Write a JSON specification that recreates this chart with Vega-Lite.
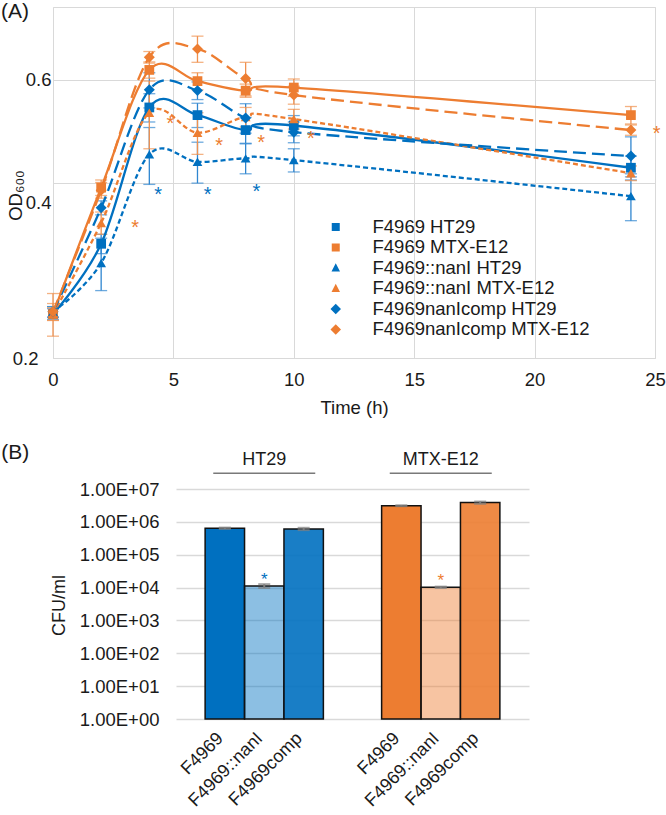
{
  "$schema": "https://vega.github.io/schema/vega-lite/v6.json",
  "background": "white",
  "padding": {"left": 0, "top": 0, "right": 0, "bottom": 0},
  "spacing": 23,
  "config": {
    "font": "Liberation Sans",
    "axis": {"labelFont": "Liberation Sans", "titleFont": "Liberation Sans", "labelColor": "#1a1a1a", "titleColor": "#1a1a1a", "titleFontWeight": "normal", "domain": false, "ticks": false, "gridColor": "#d9d9d9"},
    "legend": {"labelFont": "Liberation Sans", "orient": "none", "legendX": 273.5, "title": null, "symbolSize": 100, "symbolStrokeWidth": 2.5, "labelFontSize": 18.5, "labelOffset": 27.5, "rowPadding": 1, "labelColor": "#1a1a1a", "labelLimit": 0},
    "text": {"font": "Liberation Sans"},
    "title": {"font": "Liberation Sans"}
  },
  "datasets": {
    "od": [
      {"series": "F4969 HT29", "t": 0, "od": 0.238, "sd": 0.005},
      {"series": "F4969 HT29", "t": 2, "od": 0.314, "sd": 0.012},
      {"series": "F4969 HT29", "t": 4, "od": 0.538, "sd": 0.03},
      {"series": "F4969 HT29", "t": 6, "od": 0.522, "sd": 0.025},
      {"series": "F4969 HT29", "t": 8, "od": 0.492, "sd": 0.025},
      {"series": "F4969 HT29", "t": 10, "od": 0.501, "sd": 0.02},
      {"series": "F4969 HT29", "t": 24, "od": 0.424, "sd": 0.02},
      {"series": "F4969 MTX-E12", "t": 0, "od": 0.238, "sd": 0.02},
      {"series": "F4969 MTX-E12", "t": 2, "od": 0.392, "sd": 0.012},
      {"series": "F4969 MTX-E12", "t": 4, "od": 0.624, "sd": 0.02},
      {"series": "F4969 MTX-E12", "t": 6, "od": 0.597, "sd": 0.02},
      {"series": "F4969 MTX-E12", "t": 8, "od": 0.575, "sd": 0.015},
      {"series": "F4969 MTX-E12", "t": 10, "od": 0.582, "sd": 0.02},
      {"series": "F4969 MTX-E12", "t": 24, "od": 0.522, "sd": 0.018},
      {"series": "F4969::nanI HT29", "t": 0, "od": 0.240, "sd": 0.005},
      {"series": "F4969::nanI HT29", "t": 2, "od": 0.291, "sd": 0.03},
      {"series": "F4969::nanI HT29", "t": 4, "od": 0.447, "sd": 0.05},
      {"series": "F4969::nanI HT29", "t": 6, "od": 0.434, "sd": 0.035},
      {"series": "F4969::nanI HT29", "t": 8, "od": 0.440, "sd": 0.026},
      {"series": "F4969::nanI HT29", "t": 10, "od": 0.437, "sd": 0.02},
      {"series": "F4969::nanI HT29", "t": 24, "od": 0.379, "sd": 0.035},
      {"series": "F4969::nanI MTX-E12", "t": 0, "od": 0.238, "sd": 0.006},
      {"series": "F4969::nanI MTX-E12", "t": 2, "od": 0.341, "sd": 0.015},
      {"series": "F4969::nanI MTX-E12", "t": 4, "od": 0.527, "sd": 0.07},
      {"series": "F4969::nanI MTX-E12", "t": 6, "od": 0.487, "sd": 0.04},
      {"series": "F4969::nanI MTX-E12", "t": 8, "od": 0.518, "sd": 0.02},
      {"series": "F4969::nanI MTX-E12", "t": 10, "od": 0.514, "sd": 0.02},
      {"series": "F4969::nanI MTX-E12", "t": 24, "od": 0.415, "sd": 0.012},
      {"series": "F4969nanIcomp HT29", "t": 0, "od": 0.240, "sd": 0.005},
      {"series": "F4969nanIcomp HT29", "t": 2, "od": 0.362, "sd": 0.01},
      {"series": "F4969nanIcomp HT29", "t": 4, "od": 0.577, "sd": 0.04},
      {"series": "F4969nanIcomp HT29", "t": 6, "od": 0.575, "sd": 0.02},
      {"series": "F4969nanIcomp HT29", "t": 8, "od": 0.516, "sd": 0.03},
      {"series": "F4969nanIcomp HT29", "t": 10, "od": 0.488, "sd": 0.02},
      {"series": "F4969nanIcomp HT29", "t": 24, "od": 0.444, "sd": 0.035},
      {"series": "F4969nanIcomp MTX-E12", "t": 0, "od": 0.240, "sd": 0.008},
      {"series": "F4969nanIcomp MTX-E12", "t": 2, "od": 0.388, "sd": 0.012},
      {"series": "F4969nanIcomp MTX-E12", "t": 4, "od": 0.656, "sd": 0.015},
      {"series": "F4969nanIcomp MTX-E12", "t": 6, "od": 0.678, "sd": 0.035},
      {"series": "F4969nanIcomp MTX-E12", "t": 8, "od": 0.603, "sd": 0.04},
      {"series": "F4969nanIcomp MTX-E12", "t": 10, "od": 0.565, "sd": 0.02},
      {"series": "F4969nanIcomp MTX-E12", "t": 24, "od": 0.492, "sd": 0.01}
    ],
    "stars": [
      {"t": 4.37, "od": 0.389, "cell": "HT29"},
      {"t": 6.42, "od": 0.389, "cell": "HT29"},
      {"t": 8.45, "od": 0.393, "cell": "HT29"},
      {"t": 3.41, "od": 0.341, "cell": "MTX-E12"},
      {"t": 4.87, "od": 0.514, "cell": "MTX-E12"},
      {"t": 6.9, "od": 0.471, "cell": "MTX-E12"},
      {"t": 8.64, "od": 0.476, "cell": "MTX-E12"},
      {"t": 10.71, "od": 0.484, "cell": "MTX-E12"},
      {"t": 25.07, "od": 0.494, "cell": "MTX-E12"}
    ],
    "cfu": [
      {"cell": "HT29", "strain": "F4969", "cfu": 640000, "sd": 30000},
      {"cell": "HT29", "strain": "F4969::nanI", "cfu": 11200, "sd": 1500},
      {"cell": "HT29", "strain": "F4969comp", "cfu": 610000, "sd": 50000},
      {"cell": "MTX-E12", "strain": "F4969", "cfu": 3100000, "sd": 100000},
      {"cell": "MTX-E12", "strain": "F4969::nanI", "cfu": 10200, "sd": 500},
      {"cell": "MTX-E12", "strain": "F4969comp", "cfu": 3850000, "sd": 300000}
    ]
  },
  "resolve": {"scale": {"x": "independent", "y": "independent", "color": "independent", "fill": "independent"}},
  "vconcat": [
    {
      "width": 602,
      "height": 351,
      "view": {"stroke": "#d9d9d9", "strokeWidth": 1},
      "resolve": {"scale": {"shape": "independent"}, "legend": {"shape": "independent"}},
      "layer": [
        {
          "data": {"name": "od"},
          "transform": [{"filter": "indexof(datum.series, 'HT29') >= 0"}],
          "mark": {"type": "errorbar", "ticks": {"size": 12}, "thickness": 1.3, "color": "#2f86d0"},
          "encoding": {
            "x": {"field": "t", "type": "quantitative", "scale": {"domain": [0, 25], "nice": false, "zero": false},
              "axis": {"values": [0, 5, 10, 15, 20, 25], "title": "Time (h)", "grid": true, "labelFontSize": 18.5, "titleFontSize": 18.5, "labelPadding": 12, "titlePadding": 10, "labelFlush": false}},
            "y": {"field": "od", "type": "quantitative", "title": "OD₆₀₀", "scale": {"type": "log", "domain": [0.2, 0.8], "nice": false},
              "axis": {"values": [0.2, 0.4, 0.6], "format": ".1f", "grid": true, "labelFontSize": 18.5, "titleFontSize": 18.5, "titleX": -38, "titleY": 188, "titleAlign": "center", "titleBaseline": "middle", "titleAngle": 270,
                "labelPadding": {"condition": {"test": "datum.value < 0.3", "value": 15}, "value": 2},
                "labelOffset": {"condition": {"test": "abs(datum.value - 0.4) < 0.01", "value": 20}, "value": 0}}},
            "yError": {"field": "sd"}
          }
        },
        {
          "data": {"name": "od"},
          "transform": [{"filter": "indexof(datum.series, 'MTX') >= 0"}],
          "mark": {"type": "errorbar", "ticks": {"size": 12}, "thickness": 1.3, "color": "#f0914f"},
          "encoding": {"x": {"field": "t", "type": "quantitative"}, "y": {"field": "od", "type": "quantitative", "title": "OD₆₀₀"}, "yError": {"field": "sd"}}
        },
        {
          "data": {"name": "od"},
          "transform": [{"filter": "datum.series == 'F4969 HT29'"}],
          "mark": {"type": "line", "interpolate": "cardinal", "strokeWidth": 2.3, "color": "#0070C0"},
          "encoding": {"x": {"field": "t", "type": "quantitative"}, "y": {"field": "od", "type": "quantitative", "title": "OD₆₀₀"}}
        },
        {
          "data": {"name": "od"},
          "transform": [{"filter": "datum.series == 'F4969 MTX-E12'"}],
          "mark": {"type": "line", "interpolate": "cardinal", "strokeWidth": 2.3, "color": "#ED7D31"},
          "encoding": {"x": {"field": "t", "type": "quantitative"}, "y": {"field": "od", "type": "quantitative", "title": "OD₆₀₀"}}
        },
        {
          "data": {"name": "od"},
          "transform": [{"filter": "datum.series == 'F4969::nanI HT29'"}],
          "mark": {"type": "line", "interpolate": "cardinal", "strokeWidth": 2.3, "color": "#0070C0", "strokeDash": [5, 3]},
          "encoding": {"x": {"field": "t", "type": "quantitative"}, "y": {"field": "od", "type": "quantitative", "title": "OD₆₀₀"}}
        },
        {
          "data": {"name": "od"},
          "transform": [{"filter": "datum.series == 'F4969::nanI MTX-E12'"}],
          "mark": {"type": "line", "interpolate": "cardinal", "strokeWidth": 2.3, "color": "#ED7D31", "strokeDash": [5, 3]},
          "encoding": {"x": {"field": "t", "type": "quantitative"}, "y": {"field": "od", "type": "quantitative", "title": "OD₆₀₀"}}
        },
        {
          "data": {"name": "od"},
          "transform": [{"filter": "datum.series == 'F4969nanIcomp HT29'"}],
          "mark": {"type": "line", "interpolate": "cardinal", "strokeWidth": 2.3, "color": "#0070C0", "strokeDash": [13, 6]},
          "encoding": {"x": {"field": "t", "type": "quantitative"}, "y": {"field": "od", "type": "quantitative", "title": "OD₆₀₀"}}
        },
        {
          "data": {"name": "od"},
          "transform": [{"filter": "datum.series == 'F4969nanIcomp MTX-E12'"}],
          "mark": {"type": "line", "interpolate": "cardinal", "strokeWidth": 2.3, "color": "#ED7D31", "strokeDash": [13, 6]},
          "encoding": {"x": {"field": "t", "type": "quantitative"}, "y": {"field": "od", "type": "quantitative", "title": "OD₆₀₀"}}
        },
        {
          "data": {"name": "od"},
          "transform": [{"filter": "false"}],
          "mark": {"type": "point", "filled": true, "size": 100, "fill": "#0070C0", "stroke": "#0070C0", "strokeWidth": 2.5, "opacity": 1},
          "encoding": {
            "x": {"field": "t", "type": "quantitative"},
            "y": {"field": "od", "type": "quantitative", "title": "OD₆₀₀"},
            "shape": {"field": "series", "type": "nominal",
              "scale": {"domain": ["F4969 HT29"], "range": ["M-6,0L6,0M-0.8,-0.8L0.8,-0.8L0.8,0.8L-0.8,0.8Z"]},
              "legend": {"orient": "none", "legendX": 273.5, "legendY": 210.7, "symbolFillColor": "#0070C0", "symbolStrokeColor": "#0070C0"}}
          }
        },
        {
          "data": {"name": "od"},
          "transform": [{"filter": "false"}],
          "mark": {"type": "point", "filled": true, "size": 100, "fill": "#ED7D31", "stroke": "#ED7D31", "strokeWidth": 2.5, "opacity": 1},
          "encoding": {
            "x": {"field": "t", "type": "quantitative"},
            "y": {"field": "od", "type": "quantitative", "title": "OD₆₀₀"},
            "shape": {"field": "series", "type": "nominal",
              "scale": {"domain": ["F4969 MTX-E12"], "range": ["M-6,0L6,0M-0.8,-0.8L0.8,-0.8L0.8,0.8L-0.8,0.8Z"]},
              "legend": {"orient": "none", "legendX": 273.5, "legendY": 231.2, "symbolFillColor": "#ED7D31", "symbolStrokeColor": "#ED7D31"}}
          }
        },
        {
          "data": {"name": "od"},
          "transform": [{"filter": "false"}],
          "mark": {"type": "point", "filled": true, "size": 100, "fill": "#0070C0", "stroke": "#0070C0", "strokeWidth": 2.5, "opacity": 1},
          "encoding": {
            "x": {"field": "t", "type": "quantitative"},
            "y": {"field": "od", "type": "quantitative", "title": "OD₆₀₀"},
            "shape": {"field": "series", "type": "nominal",
              "scale": {"domain": ["F4969::nanI HT29"], "range": ["M-6,0L-5,0M-4.4,0L-3.4,0M-2.8,0L-1.8,0M-1.2,0L1.2,0M1.8,0L2.8,0M3.4,0L4.4,0M5,0L6,0M0,-0.95L0.85,0.7L-0.85,0.7Z"]},
              "legend": {"orient": "none", "legendX": 273.5, "legendY": 251.7, "symbolFillColor": "#0070C0", "symbolStrokeColor": "#0070C0"}}
          }
        },
        {
          "data": {"name": "od"},
          "transform": [{"filter": "false"}],
          "mark": {"type": "point", "filled": true, "size": 100, "fill": "#ED7D31", "stroke": "#ED7D31", "strokeWidth": 2.5, "opacity": 1},
          "encoding": {
            "x": {"field": "t", "type": "quantitative"},
            "y": {"field": "od", "type": "quantitative", "title": "OD₆₀₀"},
            "shape": {"field": "series", "type": "nominal",
              "scale": {"domain": ["F4969::nanI MTX-E12"], "range": ["M-6,0L-5,0M-4.4,0L-3.4,0M-2.8,0L-1.8,0M-1.2,0L1.2,0M1.8,0L2.8,0M3.4,0L4.4,0M5,0L6,0M0,-0.95L0.85,0.7L-0.85,0.7Z"]},
              "legend": {"orient": "none", "legendX": 273.5, "legendY": 272.2, "symbolFillColor": "#ED7D31", "symbolStrokeColor": "#ED7D31"}}
          }
        },
        {
          "data": {"name": "od"},
          "transform": [{"filter": "false"}],
          "mark": {"type": "point", "filled": true, "size": 100, "fill": "#0070C0", "stroke": "#0070C0", "strokeWidth": 2.5, "opacity": 1},
          "encoding": {
            "x": {"field": "t", "type": "quantitative"},
            "y": {"field": "od", "type": "quantitative", "title": "OD₆₀₀"},
            "shape": {"field": "series", "type": "nominal",
              "scale": {"domain": ["F4969nanIcomp HT29"], "range": ["M-6,0L-3.4,0M-2.2,0L2.2,0M3.4,0L6,0M0,-1.05L1.05,0L0,1.05L-1.05,0Z"]},
              "legend": {"orient": "none", "legendX": 273.5, "legendY": 292.7, "symbolFillColor": "#0070C0", "symbolStrokeColor": "#0070C0"}}
          }
        },
        {
          "data": {"name": "od"},
          "transform": [{"filter": "false"}],
          "mark": {"type": "point", "filled": true, "size": 100, "fill": "#ED7D31", "stroke": "#ED7D31", "strokeWidth": 2.5, "opacity": 1},
          "encoding": {
            "x": {"field": "t", "type": "quantitative"},
            "y": {"field": "od", "type": "quantitative", "title": "OD₆₀₀"},
            "shape": {"field": "series", "type": "nominal",
              "scale": {"domain": ["F4969nanIcomp MTX-E12"], "range": ["M-6,0L-3.4,0M-2.2,0L2.2,0M3.4,0L6,0M0,-1.05L1.05,0L0,1.05L-1.05,0Z"]},
              "legend": {"orient": "none", "legendX": 273.5, "legendY": 313.2, "symbolFillColor": "#ED7D31", "symbolStrokeColor": "#ED7D31"}}
          }
        },
        {
          "data": {"name": "od"},
          "transform": [{"filter": "datum.series == 'F4969 HT29'"}],
          "mark": {"type": "point", "filled": true, "size": 95, "shape": "square", "opacity": 1, "color": "#0070C0"},
          "encoding": {"x": {"field": "t", "type": "quantitative"}, "y": {"field": "od", "type": "quantitative", "title": "OD₆₀₀"}}
        },
        {
          "data": {"name": "od"},
          "transform": [{"filter": "datum.series == 'F4969 MTX-E12'"}],
          "mark": {"type": "point", "filled": true, "size": 95, "shape": "square", "opacity": 1, "color": "#ED7D31"},
          "encoding": {"x": {"field": "t", "type": "quantitative"}, "y": {"field": "od", "type": "quantitative", "title": "OD₆₀₀"}}
        },
        {
          "data": {"name": "od"},
          "transform": [{"filter": "datum.series == 'F4969::nanI HT29'"}],
          "mark": {"type": "point", "filled": true, "size": 95, "shape": "triangle-up", "opacity": 1, "color": "#0070C0"},
          "encoding": {"x": {"field": "t", "type": "quantitative"}, "y": {"field": "od", "type": "quantitative", "title": "OD₆₀₀"}}
        },
        {
          "data": {"name": "od"},
          "transform": [{"filter": "datum.series == 'F4969::nanI MTX-E12'"}],
          "mark": {"type": "point", "filled": true, "size": 95, "shape": "triangle-up", "opacity": 1, "color": "#ED7D31"},
          "encoding": {"x": {"field": "t", "type": "quantitative"}, "y": {"field": "od", "type": "quantitative", "title": "OD₆₀₀"}}
        },
        {
          "data": {"name": "od"},
          "transform": [{"filter": "datum.series == 'F4969nanIcomp HT29'"}],
          "mark": {"type": "point", "filled": true, "size": 120, "shape": "diamond", "opacity": 1, "color": "#0070C0"},
          "encoding": {"x": {"field": "t", "type": "quantitative"}, "y": {"field": "od", "type": "quantitative", "title": "OD₆₀₀"}}
        },
        {
          "data": {"name": "od"},
          "transform": [{"filter": "datum.series == 'F4969nanIcomp MTX-E12'"}],
          "mark": {"type": "point", "filled": true, "size": 120, "shape": "diamond", "opacity": 1, "color": "#ED7D31"},
          "encoding": {"x": {"field": "t", "type": "quantitative"}, "y": {"field": "od", "type": "quantitative", "title": "OD₆₀₀"}}
        },
        {
          "data": {"name": "stars"},
          "mark": {"type": "text", "text": "*", "fontSize": 20, "baseline": "alphabetic", "align": "center", "dy": 11},
          "encoding": {
            "x": {"field": "t", "type": "quantitative"},
            "y": {"field": "od", "type": "quantitative", "title": "OD₆₀₀"},
            "color": {"field": "cell", "type": "nominal", "scale": {"domain": ["HT29", "MTX-E12"], "range": ["#0070C0", "#ED7D31"]}, "legend": null}
          }
        },
        {
          "data": {"values": [{}]},
          "mark": {"type": "text", "text": "(A)", "fontSize": 21, "align": "left", "baseline": "middle", "color": "#1a1a1a"},
          "encoding": {
            "x": {"datum": -2.16, "type": "quantitative"},
            "y": {"datum": 0.784, "type": "quantitative"}
          }
        }
      ]
    },
    {
      "width": 476,
      "height": 230,
      "view": {"stroke": null},
      "data": {"name": "cfu"},
      "encoding": {
        "x": {"field": "cell", "type": "nominal", "sort": ["HT29", "MTX-E12"], "scale": {"range": [123, 476], "paddingInner": 0.33, "paddingOuter": 0.165}, "axis": null}
      },
      "layer": [
        {
          "transform": [{"filter": "datum.strain == 'F4969'"}],
          "mark": {"type": "bar", "stroke": "#111111", "strokeWidth": 1.5, "fillOpacity": 1},
          "encoding": {
            "xOffset": {"field": "strain", "type": "nominal", "sort": ["F4969", "F4969::nanI", "F4969comp"], "scale": {"domain": ["F4969", "F4969::nanI", "F4969comp"], "paddingInner": 0, "paddingOuter": 0}},
            "y": {"field": "cfu", "type": "quantitative", "title": "CFU/ml", "stack": null, "scale": {"type": "log", "domain": [1, 10000000], "nice": false},
              "axis": {"values": [1, 10, 100, 1000, 10000, 100000, 1000000, 10000000], "labelExpr": "'1.00E+0' + round(log(datum.value)/LN10)", "grid": false, "ticks": true, "tickSize": -353, "tickWidth": 1.5, "tickColor": "#d9d9d9", "offset": -123, "labelFontSize": 18.5, "titleFontSize": 18, "labelPadding": 370, "titleX": -117, "titleY": 116, "titleAlign": "center", "titleBaseline": "middle", "titleAngle": 270}},
            "y2": {"datum": 1},
            "fill": {"field": "cell", "type": "nominal", "scale": {"domain": ["HT29", "MTX-E12"], "range": ["#0070C0", "#ED7D31"]}, "legend": null}
          }
        },
        {
          "transform": [{"filter": "datum.strain == 'F4969::nanI'"}],
          "mark": {"type": "bar", "stroke": "#111111", "strokeWidth": 1.5, "fillOpacity": 0.45},
          "encoding": {
            "xOffset": {"field": "strain", "type": "nominal"},
            "y": {"field": "cfu", "type": "quantitative", "title": "CFU/ml", "stack": null},
            "y2": {"datum": 1},
            "fill": {"field": "cell", "type": "nominal", "legend": null}
          }
        },
        {
          "transform": [{"filter": "datum.strain == 'F4969comp'"}],
          "mark": {"type": "bar", "stroke": "#111111", "strokeWidth": 1.5, "fillOpacity": 0.9},
          "encoding": {
            "xOffset": {"field": "strain", "type": "nominal"},
            "y": {"field": "cfu", "type": "quantitative", "title": "CFU/ml", "stack": null},
            "y2": {"datum": 1},
            "fill": {"field": "cell", "type": "nominal", "legend": null}
          }
        },
        {
          "mark": {"type": "errorbar", "ticks": {"size": 12}, "thickness": 2, "color": "#7f7f7f"},
          "encoding": {
            "xOffset": {"field": "strain", "type": "nominal"},
            "y": {"field": "cfu", "type": "quantitative", "title": "CFU/ml"},
            "yError": {"field": "sd"}
          }
        },
        {
          "transform": [{"filter": "datum.strain == 'F4969::nanI'"}],
          "mark": {"type": "text", "text": "*", "fontSize": 17, "baseline": "alphabetic", "align": "center", "dy": -1},
          "encoding": {
            "xOffset": {"field": "strain", "type": "nominal"},
            "y": {"field": "cfu", "type": "quantitative", "title": "CFU/ml"},
            "fill": {"field": "cell", "type": "nominal", "legend": null}
          }
        },
        {
          "mark": {"type": "text", "angle": 315, "align": "right", "baseline": "middle", "fontSize": 18, "dx": -15, "dy": 9, "color": "#1a1a1a"},
          "encoding": {
            "xOffset": {"field": "strain", "type": "nominal"},
            "y": {"datum": 1, "type": "quantitative"},
            "text": {"field": "strain"}
          }
        },
        {
          "transform": [{"filter": "datum.strain == 'F4969'"}],
          "mark": {"type": "text", "fontSize": 18, "baseline": "middle", "align": "center", "color": "#1a1a1a"},
          "encoding": {
            "y": {"datum": 76000000, "type": "quantitative"},
            "text": {"field": "cell"}
          }
        },
        {
          "transform": [{"filter": "datum.strain == 'F4969'"}],
          "mark": {"type": "tick", "orient": "horizontal", "size": 102, "thickness": 1.5, "color": "#404040"},
          "encoding": {
            "y": {"datum": 30000000, "type": "quantitative"}
          }
        },
        {
          "transform": [{"filter": "datum.strain == 'F4969' && datum.cell == 'HT29'"}],
          "mark": {"type": "text", "text": "(B)", "fontSize": 21, "align": "left", "baseline": "middle", "color": "#1a1a1a"},
          "encoding": {
            "x": {"field": "cell", "type": "nominal", "bandPosition": -1.725},
            "y": {"datum": 125000000, "type": "quantitative"}
          }
        }
      ]
    }
  ]
}
